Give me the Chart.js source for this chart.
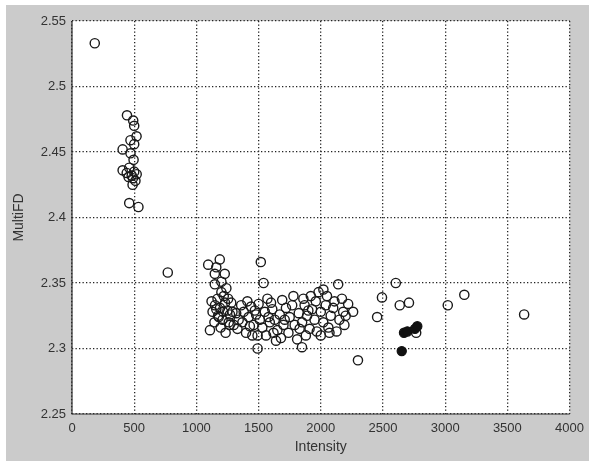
<!DOCTYPE html>
<html>
<head>
<meta charset="utf-8">
<script src="https://cdn.jsdelivr.net/npm/chart.js@4/dist/chart.umd.min.js"></script>
<style>
  html, body { margin: 0; padding: 0; background: #fff; }
  #wrap { width: 591px; height: 461px; }
</style>
</head>
<body>
<div id="wrap"><canvas id="chart" width="591" height="461"></canvas></div>
<script>
// tick values
const xTicks = [0, 500, 1000, 1500, 2000, 2500, 3000, 3500, 4000];
const yTicks = [2.25, 2.3, 2.35, 2.4, 2.45, 2.5, 2.55];

// open circles (Intensity, MultiFD)
const openX = [
  183,
  442, 492, 500, 519, 470, 500, 407, 470, 495, 407, 460, 500, 440, 480, 520, 455, 510, 490, 487, 460, 534,
  770,
  1095, 1188, 1148, 1228, 1160, 1201, 1148, 1241, 1201, 1220, 1170, 1122, 1150, 1190, 1230, 1250, 1130, 1175,
  1210, 1260, 1109, 1268, 1145, 1195, 1235, 1160,
  1280, 1360, 1320, 1300, 1340, 1399, 1380, 1420, 1440, 1460, 1492, 1480, 1510, 1518, 1540, 1571, 1550, 1530,
  1492, 1590, 1610, 1630, 1651, 1690, 1670, 1700, 1720, 1680,
  1750, 1770, 1790, 1810, 1849, 1823, 1850, 1870, 1890, 1910, 1930, 1950, 1968, 1982, 2021, 2000, 2020, 2040,
  2061, 2080, 2100, 2127, 2140, 2150, 2180, 2220, 2260, 2190, 2110, 1960,
  1330, 1410, 1450, 1560, 1620, 1740, 1780, 1880, 2050, 2170, 1600, 1270, 1370, 1500, 1640, 1860, 1920, 2000,
  1180, 1215, 1255, 1290, 1430, 1470, 1580, 1710, 1830, 1900, 2070, 2200,
  2299, 2453, 2492, 2603, 2635, 2709, 3021, 3154, 3635, 2767
];
const openY = [
  2.533,
  2.478, 2.474, 2.470, 2.462, 2.459, 2.456, 2.452, 2.449, 2.444, 2.436, 2.438, 2.435, 2.434, 2.432, 2.433, 2.431, 2.428, 2.430, 2.425, 2.411, 2.408,
  2.358,
  2.364, 2.368, 2.357, 2.357, 2.362, 2.351, 2.349, 2.346, 2.343, 2.340, 2.338, 2.336, 2.333, 2.331, 2.335, 2.329, 2.328, 2.325,
  2.322, 2.320, 2.314, 2.318, 2.320, 2.316, 2.312, 2.330,
  2.335, 2.333, 2.327, 2.318, 2.322, 2.312, 2.328, 2.324, 2.332, 2.318, 2.310, 2.326, 2.322, 2.366, 2.350, 2.338, 2.328, 2.316,
  2.300, 2.320, 2.330, 2.322, 2.314, 2.337, 2.326, 2.318, 2.331, 2.308,
  2.324, 2.333, 2.318, 2.307, 2.301, 2.327, 2.320, 2.333, 2.325, 2.315, 2.330, 2.322, 2.313, 2.343, 2.345, 2.328, 2.320, 2.333,
  2.316, 2.325, 2.331, 2.313, 2.349, 2.322, 2.328, 2.334, 2.328, 2.318, 2.336, 2.336,
  2.315, 2.336, 2.310, 2.310, 2.312, 2.312, 2.340, 2.310, 2.340, 2.338, 2.335, 2.326, 2.320, 2.334, 2.306, 2.338, 2.340, 2.310,
  2.324, 2.328, 2.338, 2.328, 2.317, 2.329, 2.324, 2.322, 2.315, 2.329, 2.312, 2.325,
  2.291, 2.324, 2.339, 2.350, 2.333, 2.335, 2.333, 2.341, 2.326, 2.312
];

// filled circles
const filledX = [2651, 2669, 2696, 2757, 2776];
const filledY = [2.298, 2.312, 2.313, 2.315, 2.317];

const toPoints = (xs, ys) => xs.map((x, i) => ({ x: x, y: ys[i] }));

// grey figure background, white axes box, solid left/bottom axis lines
const figureBg = {
    id: 'figureBg',
    beforeDraw(chart) {
        const { ctx, chartArea } = chart;
        ctx.save();
        ctx.fillStyle = '#ffffff';
        ctx.fillRect(0, 0, chart.width, chart.height);
        ctx.fillStyle = '#cbcbcb';
        ctx.fillRect(6, 5, 583, chart.height - 5);
        ctx.fillStyle = '#ffffff';
        ctx.fillRect(chartArea.left, chartArea.top, chartArea.right - chartArea.left, chartArea.bottom - chartArea.top);
        ctx.restore();
    },
    afterDraw(chart) {
        const { ctx, chartArea } = chart;
        ctx.save();
        ctx.strokeStyle = '#333';
        ctx.lineWidth = 1.2;
        ctx.beginPath();
        ctx.moveTo(chartArea.left, chartArea.top);
        ctx.lineTo(chartArea.left, chartArea.bottom);
        ctx.lineTo(chartArea.right, chartArea.bottom);
        ctx.stroke();
        ctx.restore();
    }
};

const gridStyle = {
    color: '#222',
    lineWidth: 1.3,
    drawTicks: false
};

const tickFont = { family: 'Liberation Sans, Arial, sans-serif', size: 13 };
const titleFont = { family: 'Liberation Sans, Arial, sans-serif', size: 14 };

new Chart(document.getElementById('chart'), {
    type: 'scatter',
    data: {
        datasets: [{
            data: toPoints(filledX, filledY),
            pointRadius: 4.6,
            pointBackgroundColor: '#111',
            pointBorderColor: '#111',
            pointBorderWidth: 1.2
        }, {
            data: toPoints(openX, openY),
            pointRadius: 4.6,
            pointBackgroundColor: 'rgba(255,255,255,0)',
            pointBorderColor: '#1a1a1a',
            pointBorderWidth: 1.4
        }]
    },
    options: {
        responsive: false,
        animation: false,
        layout: { padding: { left: 0, top: 21, right: 15, bottom: 0 } },
        plugins: {
            legend: { display: false },
            tooltip: { enabled: false }
        },
        scales: {
            x: {
                type: 'linear',
                min: 0,
                max: 4000,
                afterBuildTicks: s => { s.ticks = xTicks.map(v => ({ value: v })); },
                afterFit: s => { s.height = 47; },
                grid: gridStyle,
                border: { display: false, dash: [1.3, 2.2] },
                ticks: {
                    padding: 7,
                    color: '#333',
                    font: tickFont,
                    maxRotation: 0,
                    callback: v => String(v)
                },
                title: {
                    display: true,
                    text: 'Intensity',
                    color: '#333',
                    font: titleFont,
                    padding: { top: 0, bottom: 5.6 }
                }
            },
            y: {
                type: 'linear',
                min: 2.25,
                max: 2.55,
                afterBuildTicks: s => { s.ticks = yTicks.map(v => ({ value: v })); },
                afterFit: s => { s.width = 72; },
                grid: gridStyle,
                border: { display: false, dash: [1.3, 2.2] },
                ticks: {
                    padding: 6,
                    color: '#333',
                    font: tickFont,
                    callback: v => String(parseFloat(v.toFixed(2)))
                },
                title: {
                    display: true,
                    text: 'MultiFD',
                    color: '#333',
                    font: titleFont,
                    padding: { top: 10.6, bottom: 0 }
                }
            }
        }
    },
    plugins: [figureBg]
});
</script>
</body>
</html>
